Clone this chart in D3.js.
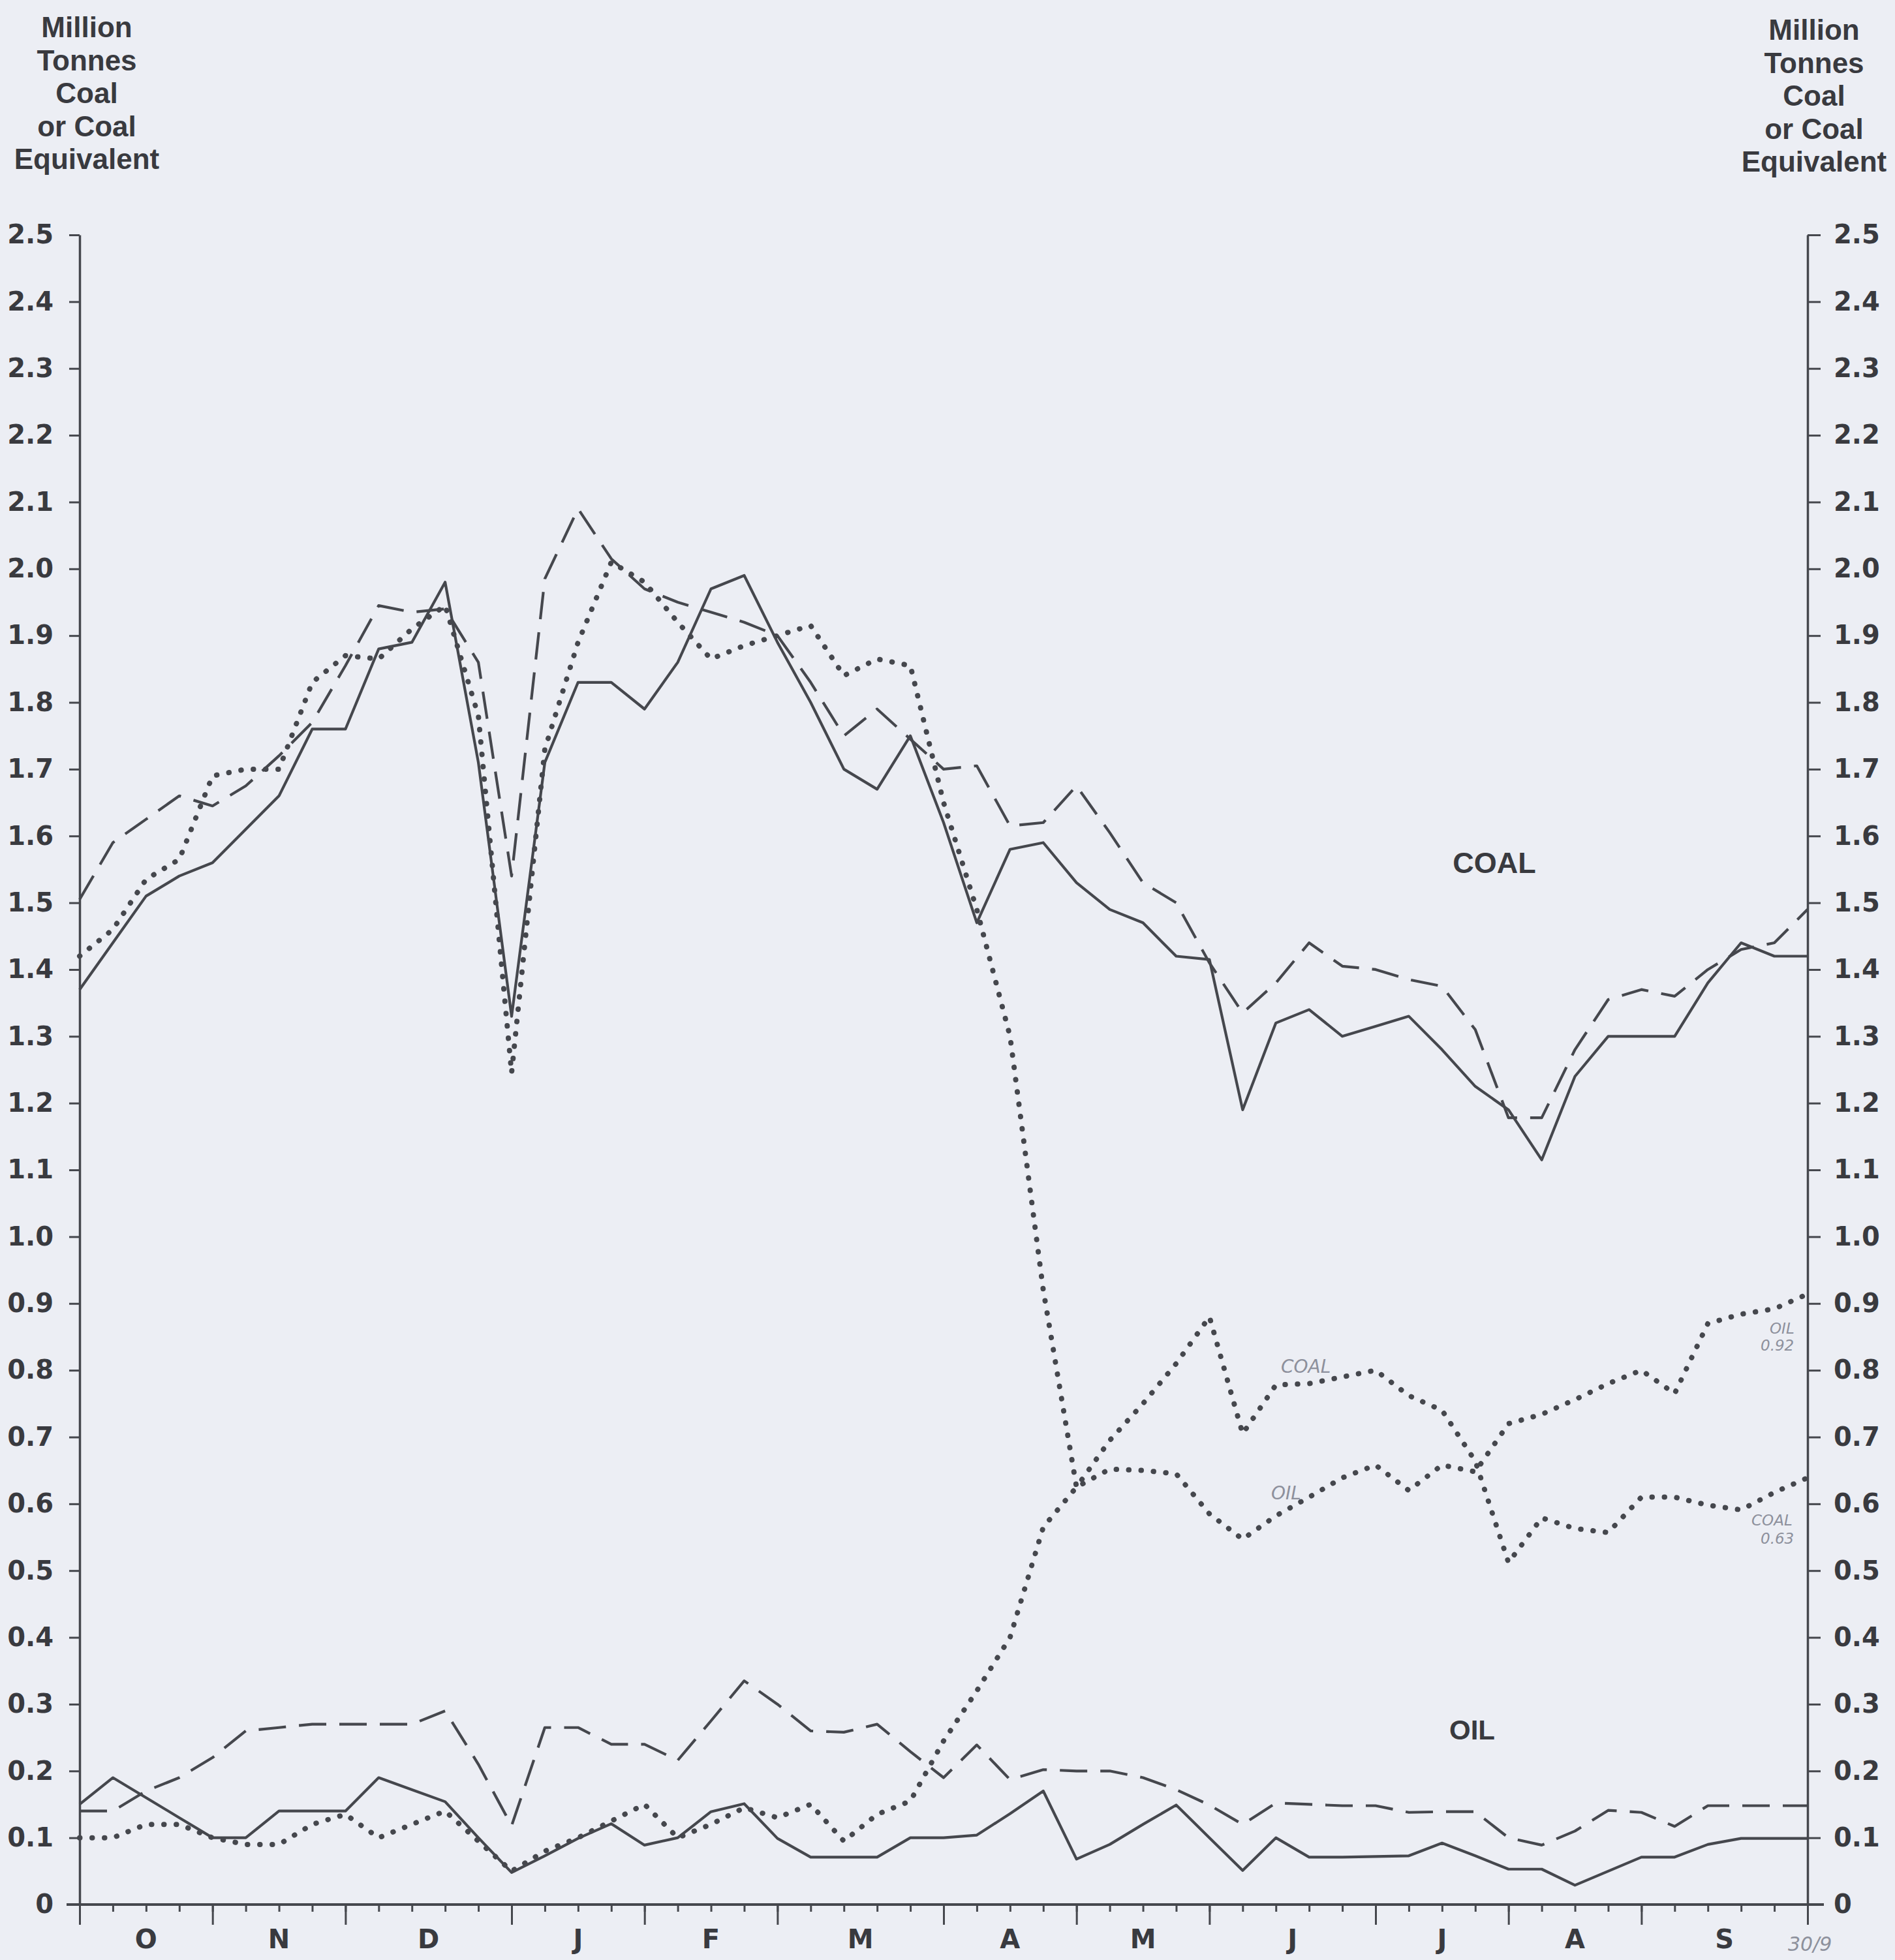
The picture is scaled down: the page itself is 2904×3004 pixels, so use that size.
<!DOCTYPE html>
<html>
<head>
<meta charset="utf-8">
<script src="https://cdn.jsdelivr.net/npm/d3@7"></script>
<style>
  body { margin: 0; background: #eceef4; }
  svg { display: block; }
</style>
</head>
<body>
<div id="chart"></div>
<script>
// weekly values, Oct (week 0) to end of Sep (week 52)
const months = ["O", "N", "D", "J", "F", "M", "A", "M", "J", "J", "A", "S"];
const monthStarts = [0, 4, 8, 13, 17, 21, 26, 30, 34, 39, 43, 47, 52];
const yTicks = [0, 0.1, 0.2, 0.3, 0.4, 0.5, 0.6, 0.7, 0.8, 0.9, 1.0, 1.1, 1.2,
                1.3, 1.4, 1.5, 1.6, 1.7, 1.8, 1.9, 2.0, 2.1, 2.2, 2.3, 2.4, 2.5];
const yTickLabels = ["0", "0.1", "0.2", "0.3", "0.4", "0.5", "0.6", "0.7", "0.8", "0.9",
                     "1.0", "1.1", "1.2", "1.3", "1.4", "1.5", "1.6", "1.7", "1.8", "1.9",
                     "2.0", "2.1", "2.2", "2.3", "2.4", "2.5"];

const coalSolid = [1.37, 1.44, 1.51, 1.54, 1.56, 1.61, 1.66, 1.76, 1.76, 1.88, 1.89, 1.98, 1.71,
                   1.33, 1.71, 1.83, 1.83, 1.79, 1.86, 1.97, 1.99, 1.89, 1.80, 1.70, 1.67, 1.75,
                   1.62, 1.47, 1.58, 1.59, 1.53, 1.49, 1.47, 1.42, 1.415, 1.19, 1.32, 1.34, 1.30,
                   1.315, 1.33, 1.28, 1.225, 1.19, 1.115, 1.24, 1.30, 1.30, 1.30, 1.38, 1.44, 1.42, 1.42];
const coalDashed = [1.505, 1.59, 1.625, 1.66, 1.645, 1.675, 1.72, 1.77, 1.855, 1.945, 1.935, 1.94, 1.86,
                    1.54, 1.985, 2.09, 2.015, 1.97, 1.95, 1.935, 1.92, 1.90, 1.83, 1.75, 1.79, 1.745,
                    1.70, 1.705, 1.615, 1.62, 1.675, 1.605, 1.53, 1.50, 1.41, 1.335, 1.38, 1.44, 1.405,
                    1.40, 1.385, 1.375, 1.31, 1.178, 1.178, 1.28, 1.355, 1.37, 1.36, 1.40, 1.43, 1.44, 1.49];
const coalDotted = [1.42, 1.46, 1.535, 1.565, 1.69, 1.70, 1.70, 1.83, 1.87, 1.865, 1.91, 1.945, 1.78,
                    1.245, 1.73, 1.89, 2.01, 1.98, 1.92, 1.865, 1.885, 1.90, 1.915, 1.84, 1.865, 1.855,
                    1.65, 1.49, 1.30, 0.92, 0.625, 0.695, 0.75, 0.81, 0.88, 0.705, 0.778, 0.78, 0.79,
                    0.80, 0.762, 0.74, 0.664, 0.512, 0.579, 0.563, 0.557, 0.61, 0.61, 0.598, 0.591, 0.617, 0.639];

const oilSolid = [0.15, 0.19, 0.16, 0.13, 0.10, 0.10, 0.14, 0.14, 0.14, 0.19, 0.172, 0.154, 0.10,
                  0.048, 0.073, 0.099, 0.121, 0.089, 0.10, 0.139, 0.151, 0.099, 0.071, 0.071, 0.071, 0.10,
                  0.10, 0.104, 0.136, 0.17, 0.068, 0.09, 0.12, 0.149, 0.10, 0.051, 0.10, 0.071, 0.071,
                  0.072, 0.073, 0.092, 0.073, 0.053, 0.053, 0.029, 0.05, 0.071, 0.071, 0.09, 0.099, 0.099, 0.099];
const oilDashed = [0.14, 0.14, 0.17, 0.19, 0.22, 0.26, 0.265, 0.27, 0.27, 0.27, 0.27, 0.29, 0.21,
                   0.118, 0.265, 0.265, 0.24, 0.24, 0.216, 0.275, 0.335, 0.30, 0.26, 0.258, 0.27, 0.229,
                   0.19, 0.239, 0.187, 0.202, 0.20, 0.20, 0.19, 0.172, 0.149, 0.12, 0.152, 0.15, 0.148,
                   0.148, 0.138, 0.139, 0.139, 0.10, 0.089, 0.11, 0.141, 0.138, 0.117, 0.148, 0.148, 0.148, 0.148];
const oilDotted = [0.10, 0.10, 0.12, 0.12, 0.10, 0.09, 0.09, 0.12, 0.135, 0.10, 0.12, 0.14, 0.095,
                   0.05, 0.08, 0.10, 0.125, 0.15, 0.10, 0.12, 0.145, 0.13, 0.15, 0.095, 0.135, 0.155,
                   0.245, 0.32, 0.40, 0.565, 0.625, 0.652, 0.65, 0.645, 0.585, 0.547, 0.582, 0.61, 0.639,
                   0.658, 0.62, 0.658, 0.648, 0.72, 0.734, 0.756, 0.78, 0.80, 0.765, 0.87, 0.884, 0.892, 0.914];

const ink = "#45474d";
const textInk = "#393a3f";
const pencil = "#8d909c";

const svg = d3.select("#chart").append("svg")
    .attr("width", 2904)
    .attr("height", 3004);

svg.append("rect").attr("width", 2904).attr("height", 3004).attr("fill", "#eceef4");

const x = d3.scaleLinear().domain([0, 52]).range([122, 2770]);
const y = d3.scaleLinear().domain([0, 2.5]).range([2919, 360]);

const labelFont = "'DejaVu Sans', sans-serif";
const titleFont = "'Liberation Sans', Arial, sans-serif";

// unit titles on both sides
const titleLines = ["Million", "Tonnes", "Coal", "or Coal", "Equivalent"];
[[133, 57], [2780, 61]].forEach(([cx, top]) => {
  svg.append("g").selectAll("text")
    .data(titleLines)
    .enter().append("text")
    .attr("x", cx)
    .attr("y", (d, i) => top + i * 50.5)
    .attr("text-anchor", "middle")
    .style("font-family", titleFont)
    .style("font-weight", "700")
    .style("font-size", "44px")
    .style("fill", textInk)
    .text(d => d);
});

// y axes
const fmt = d => yTickLabels[yTicks.indexOf(d)];

const leftAxis = svg.append("g")
    .attr("transform", `translate(${x(0)},0)`)
    .call(d3.axisLeft(y).tickValues(yTicks).tickSize(16).tickSizeOuter(0).tickPadding(24).tickFormat(fmt));

const rightAxis = svg.append("g")
    .attr("transform", `translate(${x(52)},0)`)
    .call(d3.axisRight(y).tickValues(yTicks).tickSize(20).tickSizeOuter(0).tickPadding(20).tickFormat(fmt));

[leftAxis, rightAxis].forEach(g => {
  g.select(".domain").attr("stroke", ink).attr("stroke-width", 3.5);
  g.selectAll(".tick line").attr("stroke", ink).attr("stroke-width", 3);
  g.selectAll(".tick text")
    .style("font-family", labelFont)
    .style("font-weight", "700")
    .style("font-size", "40px")
    .style("fill", textInk);
});

// x axis: weekly small ticks, long ticks at month boundaries
const xWeeks = svg.append("g")
    .attr("transform", `translate(0,${y(0)})`)
    .call(d3.axisBottom(x).tickValues(d3.range(0, 53)).tickSize(11).tickFormat(""));
const xMonths = svg.append("g")
    .attr("transform", `translate(0,${y(0)})`)
    .call(d3.axisBottom(x).tickValues(monthStarts).tickSize(31).tickFormat(""));
[xWeeks, xMonths].forEach(g => {
  g.select(".domain").remove();
  g.selectAll(".tick line").attr("stroke", ink).attr("stroke-width", 3);
});

svg.append("line")
    .attr("x1", x(0) - 20).attr("x2", x(52) + 25)
    .attr("y1", y(0)).attr("y2", y(0))
    .attr("stroke", ink).attr("stroke-width", 4);

svg.append("g").selectAll("text")
    .data(months)
    .enter().append("text")
    .attr("x", (d, i) => x((monthStarts[i] + monthStarts[i + 1]) / 2))
    .attr("y", 2986)
    .attr("text-anchor", "middle")
    .style("font-family", labelFont)
    .style("font-weight", "700")
    .style("font-size", "40px")
    .style("fill", textInk)
    .text(d => d);

// the six weekly series
const line = d3.line()
    .x((d, i) => x(i))
    .y(d => y(d));

const series = [
  {values: coalSolid, dash: null},
  {values: coalDashed, dash: "42,20"},
  {values: coalDotted, dash: "0.5,18.5"},
  {values: oilSolid, dash: null},
  {values: oilDashed, dash: "42,20"},
  {values: oilDotted, dash: "0.5,18.5"}
];

series.forEach(s => {
  const dotted = s.dash === "0.5,18.5";
  svg.append("path")
      .datum(s.values)
      .attr("d", line)
      .attr("fill", "none")
      .attr("stroke", ink)
      .attr("stroke-width", dotted ? 8 : 4.2)
      .attr("stroke-linecap", dotted ? "round" : "butt")
      .attr("stroke-linejoin", "round")
      .attr("stroke-dasharray", s.dash);
});

// printed labels
svg.append("text")
    .attr("x", 2290).attr("y", 1338)
    .attr("text-anchor", "middle")
    .style("font-family", titleFont).style("font-weight", "700").style("font-size", "45px")
    .style("fill", textInk)
    .text("COAL");

svg.append("text")
    .attr("x", 2256).attr("y", 2666)
    .attr("text-anchor", "middle")
    .style("font-family", titleFont).style("font-weight", "700").style("font-size", "42px")
    .style("fill", textInk)
    .text("OIL");

// pencil notes
const notes = [
  {t: "COAL", x: 1963, y: 2104, s: 28},
  {t: "OIL", x: 1948, y: 2298, s: 28},
  {t: "OIL", x: 2712, y: 2044, s: 23},
  {t: "0.92", x: 2698, y: 2070, s: 23},
  {t: "COAL", x: 2684, y: 2338, s: 23},
  {t: "0.63", x: 2698, y: 2366, s: 23},
  {t: "30/9", x: 2740, y: 2990, s: 30}
];

svg.append("g").selectAll("text")
    .data(notes)
    .enter().append("text")
    .attr("x", d => d.x)
    .attr("y", d => d.y)
    .style("font-family", labelFont)
    .style("font-style", "italic")
    .style("font-size", d => d.s + "px")
    .style("fill", pencil)
    .text(d => d.t);
</script>
</body>
</html>
